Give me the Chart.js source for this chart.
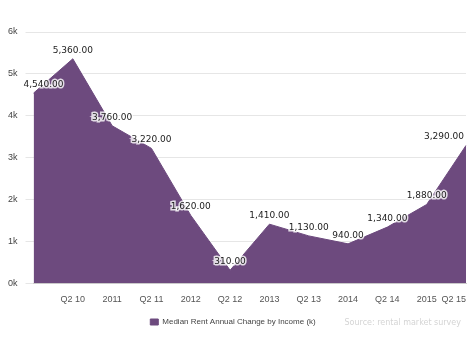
<!DOCTYPE html>
<html>
<head>
<meta charset="utf-8">
<script src="https://cdn.jsdelivr.net/npm/chart.js@4/dist/chart.umd.min.js"></script>
<style>
  html, body { margin: 0; padding: 0; background: #fff; }
  #wrap { position: relative; width: 469px; height: 354px; }
  #note { position: absolute; right: 8px; top: 318px; font: 8px "DejaVu Sans", sans-serif; color: #d4d4d4; }
</style>
</head>
<body>
<div id="wrap">
  <canvas id="rentChart" width="469" height="336"></canvas>
  <div id="note">Source: rental market survey</div>
</div>
<script>
// chart values (thousands)
const categories = ['', 'Q2 10', '2011', 'Q2 11', '2012', 'Q2 12', '2013', 'Q2 13', '2014', 'Q2 14', '2015', 'Q2 15'];
const values = [4.540, 5.360, 3.760, 3.220, 1.620, 0.310, 1.410, 1.130, 0.940, 1.340, 1.880, 3.290];
const tickLabels = ['0k', '1k', '2k', '3k', '4k', '5k', '6k'];
const seriesName = 'Median Rent Annual Change by Income (k)';

// little plugin to print the value over each point
const valueLabels = {
    id: 'valueLabels',
    afterDatasetsDraw(chart) {
        const ctx = chart.ctx;
        const meta = chart.getDatasetMeta(0);
        ctx.save();
        ctx.font = '9px "DejaVu Sans", sans-serif';
        ctx.textAlign = 'center';
        ctx.textBaseline = 'bottom';
        meta.data.forEach((pt, i) => {
            const txt = (values[i] * 1000).toLocaleString('en-US', {minimumFractionDigits: 2, maximumFractionDigits: 2});
            let x = pt.x;
            if (i === 0) x += 10;
            if (i === meta.data.length - 1) x -= 22;
            ctx.lineWidth = 3;
            ctx.strokeStyle = 'rgba(255,255,255,0.8)';
            ctx.strokeText(txt, x, pt.y - 4);
            ctx.fillStyle = '#222';
            ctx.fillText(txt, x, pt.y - 4);
        });
        ctx.restore();
    }
};

let rentChart = new Chart(document.getElementById('rentChart').getContext('2d'), {
    type: 'line',
    data: {
        labels: categories,
        datasets: [{
            label: seriesName,
            data: values,
            fill: 'origin',
            backgroundColor: '#6d4a7e',
            borderColor: '#6d4a7e',
            borderWidth: 1,
            pointRadius: 0,
            tension: 0
        }]
    },
    options: {
        responsive: false,
        animation: false,
        layout: { padding: { left: 0, right: 3, top: 32, bottom: 0 } },
        scales: {
            x: {
                offset: false,
                grid: { display: false },
                border: { color: '#ccc' },
                ticks: { color: '#555', font: { size: 9 }, autoSkip: false, maxRotation: 0, align: 'inner' }
            },
            y: {
                min: 0,
                max: 6,
                grid: { color: '#e6e6e6' },
                border: { display: false },
                ticks: {
                    stepSize: 1,
                    padding: 8,
                    color: '#444',
                    font: { size: 9 },
                    callback: (v) => tickLabels[v]
                }
            }
        },
        plugins: {
            legend: {
                position: 'bottom',
                labels: { boxWidth: 8, boxHeight: 6, font: { size: 8 }, color: '#444' }
            },
            tooltip: { enabled: false }
        }
    },
    plugins: [valueLabels]
});
</script>
</body>
</html>
